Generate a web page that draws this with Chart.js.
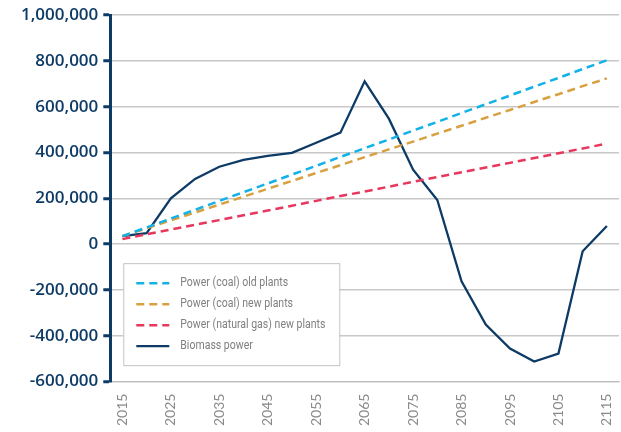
<!DOCTYPE html>
<html>
<head>
<meta charset="utf-8">
<script src="https://cdn.jsdelivr.net/npm/chart.js@4.4.1/dist/chart.umd.min.js"></script>
<style>
  html, body { margin: 0; padding: 0; background: #fff; }
  #wrap { width: 621px; height: 432px; position: relative; }
</style>
</head>
<body>
<div id="wrap"><canvas id="chart"></canvas></div>
<script>
// ========================================
// Emissions by power source, 2015-2115
// ========================================

const years = ['2015', '2020', '2025', '2030', '2035', '2040', '2045', '2050', '2055', '2060', '2065',
  '2070', '2075', '2080', '2085', '2090', '2095', '2100', '2105', '2110', '2115'];

const coalOld = [35000, 73000, 112000, 150000, 189000, 227000, 265000, 304000, 342000, 381000, 419000,
  457000, 496000, 534000, 573000, 611000, 649000, 688000, 726000, 765000, 803000];

const coalNew = [35000, 69000, 104000, 138000, 173000, 207000, 242000, 276000, 311000, 345000, 380000,
  414000, 448000, 483000, 517000, 552000, 586000, 621000, 655000, 690000, 724000];

const gasNew = [22000, 43000, 64000, 85000, 105000, 126000, 147000, 168000, 189000, 210000, 230000,
  251000, 272000, 293000, 314000, 335000, 355000, 376000, 397000, 418000, 439000];

const biomass = [35000, 48000, 200000, 285000, 338000, 368000, 386000, 399000, 443000, 487000, 711000,
  548000, 325000, 193000, -162000, -351000, -456000, -513000, -478000, -31000, 79000];

const yTicks = [-600000, -400000, -200000, 0, 200000, 400000, 600000, 800000, 1000000];

const NAVY = '#0d3b66';

// Legend box drawn inside the plot area
const boxLegend = {
  id: 'boxLegend',
  afterDraw(chart) {
    const ctx = chart.ctx;
    const area = chart.chartArea;
    const x0 = area.left + 13;
    const y0 = chart.scales.y.getPixelForValue(0) + 19;
    const w = 216, h = 102;
    ctx.save();
    ctx.fillStyle = '#fff';
    ctx.fillRect(x0, y0, w, h);
    ctx.strokeStyle = '#c4c4c4';
    ctx.lineWidth = 1;
    ctx.strokeRect(x0 + 0.5, y0 + 0.5, w, h);
    ctx.font = '13px Roboto, sans-serif';
    ctx.textBaseline = 'middle';
    chart.data.datasets.forEach((ds, i) => {
      const y = y0 + 20 + i * 21;
      ctx.strokeStyle = ds.borderColor;
      ctx.lineWidth = ds.borderWidth;
      ctx.setLineDash(ds.borderDash || []);
      ctx.beginPath();
      ctx.moveTo(x0 + 13, y);
      ctx.lineTo(x0 + 46, y);
      ctx.stroke();
      ctx.setLineDash([]);
      // narrow the text to look like the condensed face of the original
      ctx.save();
      ctx.translate(x0 + 57, y);
      ctx.scale(0.81, 1);
      ctx.fillStyle = '#808080';
      ctx.fillText(ds.label, 0, 0);
      ctx.restore();
    });
    ctx.restore();
  }
};

function lineSet(label, data, color, dashed) {
  return {
    label: label,
    data: data,
    borderColor: color,
    backgroundColor: color,
    borderWidth: dashed ? 2.5 : 2.3,
    borderDash: dashed ? [8, 5] : [],
    pointRadius: 0,
    tension: 0,
    fill: false
  };
}

new Chart(document.getElementById('chart'), {
  type: 'line',
  data: {
    labels: years,
    datasets: [
      lineSet('Power (coal) old plants', coalOld, '#12b1e8', true),
      lineSet('Power (coal) new plants', coalNew, '#d9a040', true),
      lineSet('Power (natural gas) new plants', gasNew, '#e8375d', true),
      lineSet('Biomass power', biomass, NAVY, false)
    ]
  },
  options: {
    responsive: true,
    maintainAspectRatio: false,
    animation: false,
    layout: { padding: { top: 14, right: 2, left: 16, bottom: 2 } },
    plugins: { legend: { display: false }, tooltip: { enabled: false } },
    scales: {
      x: {
        offset: true,
        grid: { display: false },
        border: { color: '#bdbdbd', width: 1 },
        // let the plot run to the right edge like the original
        afterFit: axis => { axis.paddingRight = 0; },
        ticks: {
          autoSkip: false,
          minRotation: 90,
          maxRotation: 90,
          color: '#8a8a8a',
          font: { family: 'Lato', size: 14 },
          padding: 4,
          callback: (v, i) => (i % 2 === 0 ? years[i] : '')
        }
      },
      y: {
        min: -600000,
        max: 1000000,
        afterBuildTicks: axis => { axis.ticks = yTicks.map(v => ({ value: v })); },
        border: { color: NAVY, width: 3 },
        grid: { color: '#c8c8c8', lineWidth: 1.5, tickColor: NAVY, tickLength: 7, tickWidth: 3 },
        ticks: {
          color: NAVY,
          font: { family: '"Open Sans"', size: 17, weight: '600' },
          padding: 5,
          callback: v => v.toLocaleString('en-US')
        }
      }
    }
  },
  plugins: [boxLegend]
});
</script>
</body>
</html>
